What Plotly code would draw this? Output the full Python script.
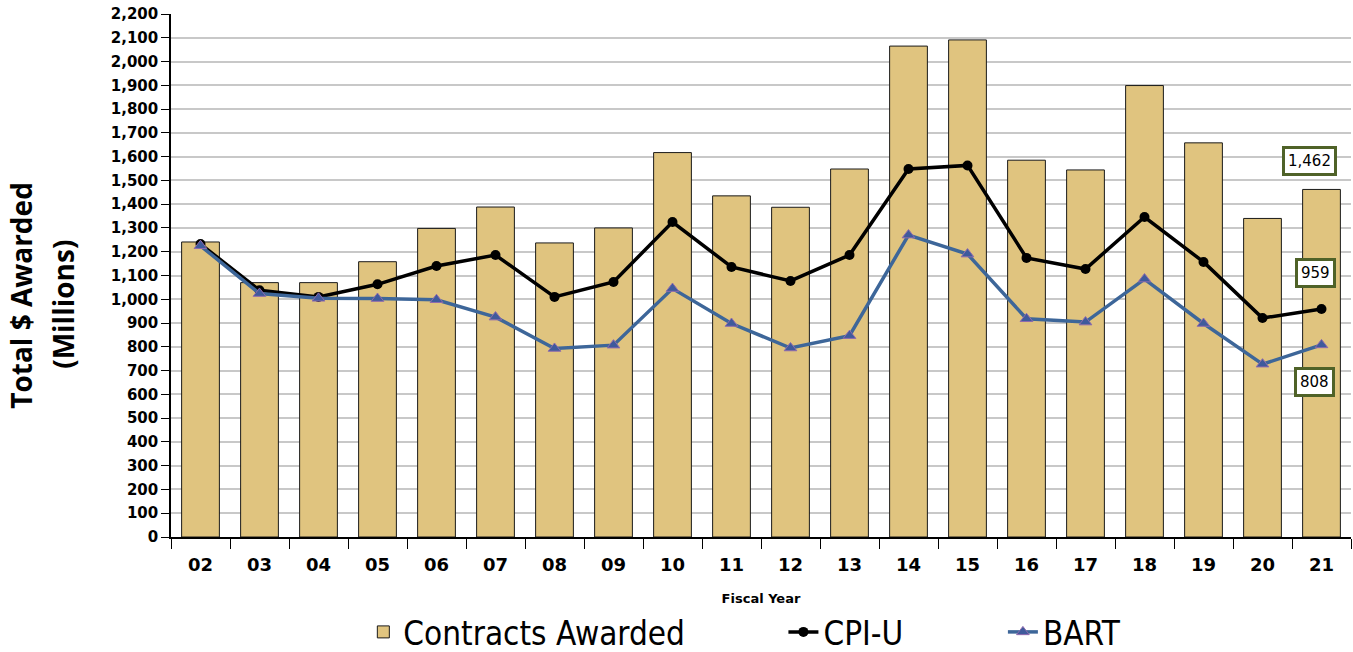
import plotly.graph_objects as go

years = ["02","03","04","05","06","07","08","09","10","11","12","13","14","15","16","17","18","19","20","21"]
contracts = [1241,1070,1070,1158,1298,1388,1237,1300,1617,1435,1387,1548,2065,2091,1585,1544,1899,1658,1340,1462]
cpi_u = [1232,1038,1010,1063,1140,1186,1010,1073,1325,1136,1077,1186,1548,1563,1174,1127,1346,1157,921,959]
bart = [1225,1024,1004,1003,998,925,793,807,1045,898,795,847,1270,1190,918,904,1085,898,727,808]
y_ticks = list(range(0, 2201, 100))
y_labels = [f"{v:,}" for v in y_ticks]
label_values = ["1,462", "959", "808"]
label_y = [1580, 1112, 650]
label_xshift = [-12, -6, -7]

LEG_FONT = dict(family="Liberation Sans Narrow, DejaVu Sans Condensed", size=33, color="black")
TITLE_FONT = dict(family="Open Sans", size=28, color="black", weight="bold")

fig = go.Figure()
fig.add_trace(go.Bar(x=years, y=contracts, name="Contracts Awarded", legend="legend",
                     marker=dict(color="#E0C47F", line=dict(color="#1a1a1a", width=1)),
                     width=0.64))
fig.add_trace(go.Scatter(x=years, y=cpi_u, name="CPI-U", mode="lines+markers", legend="legend2",
                         line=dict(color="black", width=3.5),
                         marker=dict(symbol="circle", size=10, color="black")))
fig.add_trace(go.Scatter(x=years, y=bart, name="BART", mode="lines+markers", legend="legend3",
                         line=dict(color="#3D6699", width=3.5),
                         marker=dict(symbol="triangle-up", size=11, color="#3F5A9C",
                                     line=dict(color="#8E6AAE", width=1))))

for txt, yv, xs in zip(label_values, label_y, label_xshift):
    fig.add_annotation(x=len(years) - 1, y=yv, text=txt, showarrow=False, xshift=xs,
                       font=dict(family="DejaVu Sans", size=15, color="black"),
                       bgcolor="white", bordercolor="#4F6228", borderwidth=3, borderpad=3)

# y-axis title as two rotated lines
fig.add_annotation(xref="paper", yref="paper", x=-0.1271, y=0.4613, text="Total $ Awarded",
                   textangle=-90, showarrow=False, font=TITLE_FONT, xanchor="center", yanchor="middle")
fig.add_annotation(xref="paper", yref="paper", x=-0.0915, y=0.444, text="(Millions)",
                   textangle=-90, showarrow=False, font=TITLE_FONT, xanchor="center", yanchor="middle")

legend_common = dict(orientation="h", xanchor="left", yanchor="top", y=-0.128,
                     font=LEG_FONT, itemwidth=30, bgcolor="rgba(0,0,0,0)")
fig.update_layout(
    width=1353, height=652,
    margin=dict(l=171, r=2, t=14, b=115, autoexpand=False),
    plot_bgcolor="white", paper_bgcolor="white",
    bargap=0.36,
    showlegend=True,
    legend=dict(legend_common, x=0.163),
    legend2=dict(legend_common, x=0.519),
    legend3=dict(legend_common, x=0.705),
    font=dict(family="DejaVu Sans", color="black"),
)
fig.update_yaxes(range=[0, 2200], tickvals=y_ticks, ticktext=y_labels,
                 showgrid=True, gridcolor="#C8C8C8", gridwidth=1.5,
                 showline=True, linecolor="black", linewidth=1.5,
                 ticks="outside", ticklen=8, tickcolor="black",
                 ticklabeloverflow="allow",
                 tickfont=dict(family="DejaVu Sans", size=15, weight="bold"),
                 zeroline=False)
fig.update_xaxes(type="category", showline=True, linecolor="black", linewidth=1.5,
                 ticks="outside", tickson="boundaries", ticklen=10, tickcolor="black",
                 ticklabelstandoff=11,
                 tickfont=dict(family="DejaVu Sans", size=18, weight="bold"),
                 title=dict(text="<b>Fiscal Year</b>", font=dict(family="DejaVu Sans", size=13), standoff=20),
                 range=[-0.5, 19.5])

fig.write_html("out.html", config={"displayModeBar": False},
               post_script="document.body.style.margin='0px';")
